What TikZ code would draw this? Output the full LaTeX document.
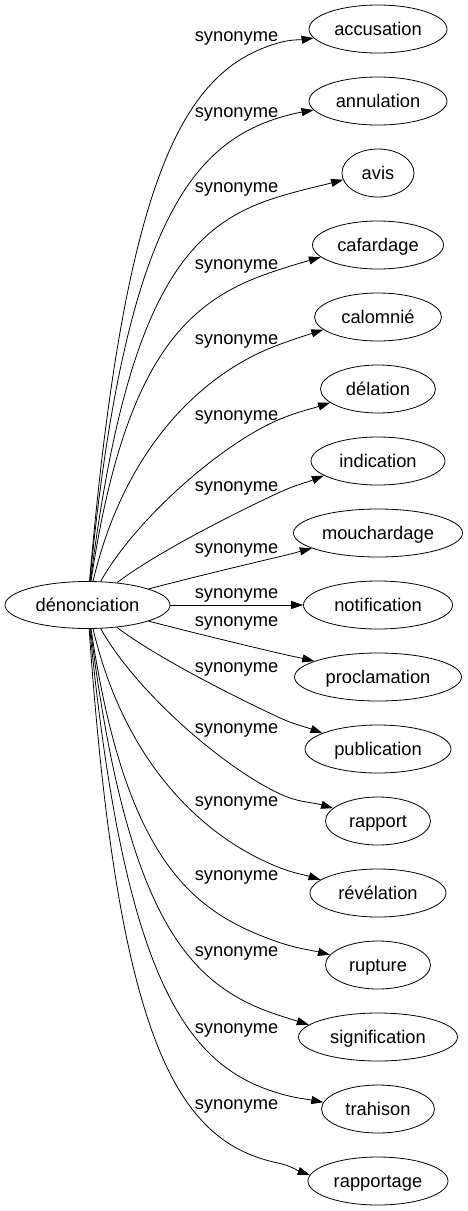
\documentclass[tikz,border=0pt]{standalone}
\usepackage{fontspec}
\setmainfont{Liberation Sans}
\usetikzlibrary{arrows.meta,shapes.geometric}
\begin{document}
\begin{tikzpicture}[x=1pt,y=-1pt,
  word/.style={ellipse,draw,line width=0.8pt,inner sep=0pt,minimum height=48pt,
    text height=12pt,text depth=0pt,font=\fontsize{18.3}{20}\selectfont},
  lab/.style={inner sep=0pt,font=\fontsize{18.3}{20}\selectfont},
  link/.style={line width=0.8pt,-{Triangle[length=12pt,width=8pt]}}]
\useasboundingbox (0,0) rectangle (468,1211);

% central node
\node[word,minimum width=165pt,minimum height=47pt] (den) at (87.5,605) {dénonciation};

% targets
\node[word,minimum width=138pt] (acc) at (378,29) {accusation};
\node[word,minimum width=138pt] (ann) at (378,101) {annulation};
\node[word,minimum width=72pt] (avi) at (378,173) {avis};
\node[word,minimum width=131pt] (caf) at (378,245) {cafardage};
\node[word,minimum width=127pt] (cal) at (378,317) {calomnié};
\node[word,minimum width=115pt] (del) at (378,389) {délation};
\node[word,minimum width=134pt] (ind) at (378,461) {indication};
\node[word,minimum width=169pt] (mou) at (378,533) {mouchardage};
\node[word,minimum width=149pt] (not) at (378,605) {notification};
\node[word,minimum width=167pt] (pro) at (378,677) {proclamation};
\node[word,minimum width=146pt] (pub) at (378,749) {publication};
\node[word,minimum width=105pt] (rap) at (378,821) {rapport};
\node[word,minimum width=136pt] (rev) at (378,893) {révélation};
\node[word,minimum width=105pt] (rup) at (378,965) {rupture};
\node[word,minimum width=159pt] (sig) at (378,1037) {signification};
\node[word,minimum width=113pt] (tra) at (378,1109) {trahison};
\node[word,minimum width=140pt] (rpt) at (378,1181) {rapportage};

% labels
\node[lab] (l1) at (236.5,38.3) {synonyme};
\node[lab] (l2) at (236.5,114) {synonyme};
\node[lab] (l3) at (236.5,189.7) {synonyme};
\node[lab] (l4) at (236.5,266.3) {synonyme};
\node[lab] (l5) at (236.5,341.7) {synonyme};
\node[lab] (l6) at (236.5,417) {synonyme};
\node[lab] (l7) at (236.5,488.3) {synonyme};
\node[lab] (l8) at (236.5,550) {synonyme};
\node[lab] (l9) at (236.5,595) {synonyme};
\node[lab] (l10) at (236.5,623) {synonyme};
\node[lab] (l11) at (236.5,669.5) {synonyme};
\node[lab] (l12) at (236.5,730.7) {synonyme};
\node[lab] (l13) at (236.5,803.3) {synonyme};
\node[lab] (l14) at (236.5,877.3) {synonyme};
\node[lab] (l15) at (236.5,953.7) {synonyme};
\node[lab] (l16) at (236.5,1030) {synonyme};
\node[lab] (l17) at (236.5,1106) {synonyme};

% via points
\coordinate (v1) at (278,43);
\coordinate (v2) at (278,118);
\coordinate (v3) at (278,197);
\coordinate (v4) at (278,270);
\coordinate (v5) at (278,345);
\coordinate (v6) at (278,420);
\coordinate (v7) at (278,493);
\coordinate (v8) at (278,557);
\coordinate (v10) at (278,653);
\coordinate (v11) at (278,717);
\coordinate (v12) at (278,793);
\coordinate (v13) at (278,867);
\coordinate (v14) at (278,942);
\coordinate (v15) at (278,1015);
\coordinate (v16) at (278,1093);
\coordinate (v17) at (278,1163);

% edges
\draw[link] (den) .. controls (125,170) and (185,70) .. (v1) to[out=16,in=188] (acc.188);
\draw[link] (den) .. controls (124,229) and (190,146) .. (v2) to[out=17,in=190] (ann.188);
\draw[link] (den) .. controls (127,289) and (190,224) .. (v3) to[out=17,in=195] (avi.191);
\draw[link] (den) .. controls (126,345) and (195,297) .. (v4) to[out=18,in=196] (caf.192);
\draw[link] (den) .. controls (125,445) and (205,372) .. (v5) to[out=20,in=198] (cal.193);
\draw[link] (den) .. controls (135,520) and (220,445) .. (v6) to[out=23,in=198] (del.196);
\draw[link] (den) .. controls (156,553) and (233,514) .. (v7) to[out=25,in=202] (ind.195);
\draw[link] (den) .. controls (190,578) and (240,566) .. (v8) to[out=13,in=195] (mou.193);
\draw[link] (den) -- (not);
\draw[link] (den) .. controls (190,632) and (240,644) .. (v10) to[out=-13,in=167] (pro.166);
\draw[link] (den) .. controls (156,657) and (233,696) .. (v11) to[out=-25,in=160] (pub.164);
\draw[link] (den) .. controls (135,690) and (220,765) .. (v12) to[out=-26,in=164] (rap.164);
\draw[link] (den) .. controls (125,765) and (205,838) .. (v13) to[out=-22,in=163] (rev.167);
\draw[link] (den) .. controls (126,865) and (195,913) .. (v14) to[out=-19,in=166] (rup.168);
\draw[link] (den) .. controls (127,921) and (190,986) .. (v15) to[out=-18,in=162] (sig.170);
\draw[link] (den) .. controls (124,981) and (187,1066) .. (v16) to[out=-17,in=169] (tra.173);
\draw[link] (den) .. controls (118,1045) and (178,1142) .. (v17) to[out=-12,in=160] (rpt.175);
\end{tikzpicture}
\end{document}
